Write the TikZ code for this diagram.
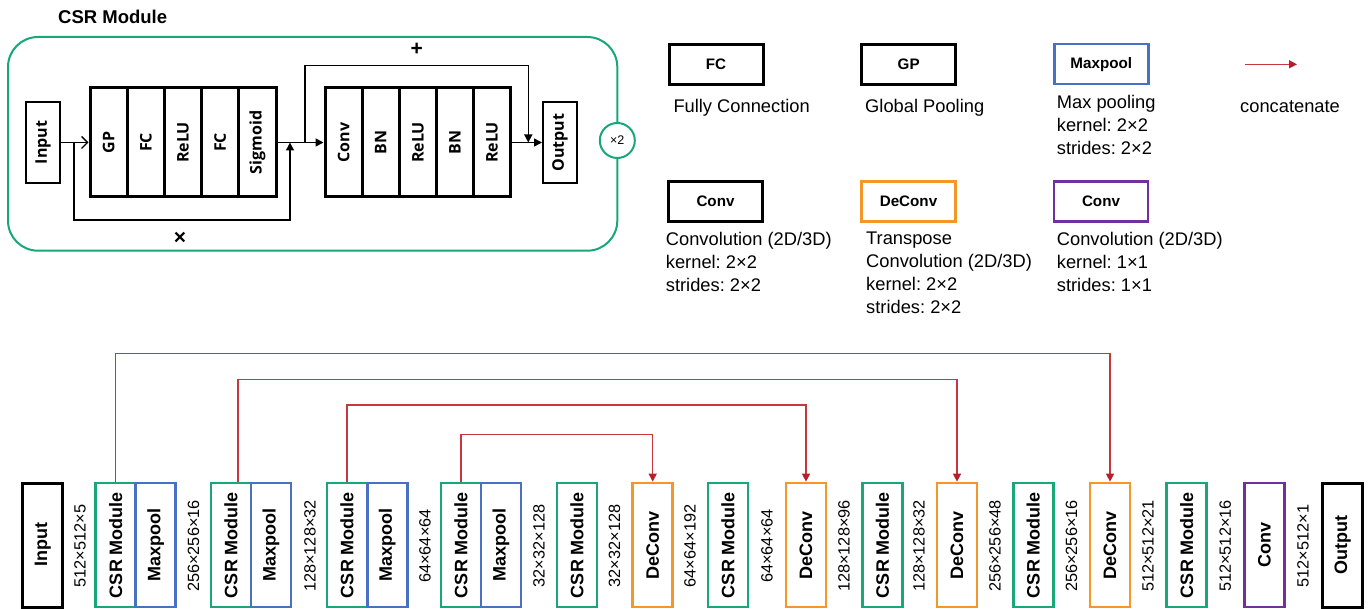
\documentclass[tikz,border=0pt]{standalone}
\usepackage{fontspec}
\usepackage{graphicx}
\setmainfont{Liberation Sans}
\newfontfamily\modfont{Open Sans}
\usetikzlibrary{arrows.meta}
\definecolor{cgreen}{RGB}{24,168,120}
\definecolor{cblue}{RGB}{72,112,196}
\definecolor{corange}{RGB}{245,150,40}
\definecolor{cpurple}{RGB}{112,48,160}
\definecolor{cred}{RGB}{185,30,45}
\definecolor{credl}{RGB}{200,55,65}
\frenchspacing
\begin{document}
\begin{tikzpicture}[x=1pt,y=-1pt,
  cell/.style={draw=black, line width=3pt, minimum width=37.2pt, minimum height=109pt, inner sep=0pt,
    font=\modfont\fontsize{16}{18}\selectfont\bfseries},
  smallbox/.style={draw=black, line width=2pt, minimum width=34pt, minimum height=81pt, inner sep=0pt,
    font=\modfont\fontsize{16}{18}\selectfont\bfseries},
  conn/.style={draw=black, line width=1.5pt},
  tri/.style={-{Triangle[length=8pt,width=8pt]}},
  barb/.style={-{Straight Barb[length=6pt,width=12pt,line width=1.4pt]}},
  lbox/.style={draw=black, line width=3pt, minimum width=94pt, minimum height=40pt, inner sep=0pt,
    font=\fontsize{15.2}{17}\selectfont\bfseries},
  ltext/.style={anchor=base west, inner sep=0pt, font=\fontsize{18.3}{22.8}\selectfont},
  bbox/.style={line width=2.7pt, minimum width=40pt, minimum height=124pt, inner sep=0pt,
    font=\fontsize{18}{20}\selectfont\bfseries},
  csr/.style={bbox, draw=cgreen},
  mp/.style={bbox, draw=cblue},
  dc/.style={bbox, draw=corange},
  pconv/.style={bbox, draw=cpurple},
  io/.style={bbox, draw=black, line width=3pt},
  dim/.style={inner sep=0pt, font=\fontsize{16.3}{18}\selectfont},
  concat/.style={draw=credl, line width=1.4pt, -{Triangle[length=8pt,width=8pt,color=cred]}}
]
\fill[white] (0,0) rectangle (1370,609);
\useasboundingbox (0,0) rectangle (1370,609);

% ---------------- CSR module ----------------
\node[anchor=west, inner sep=0pt, font=\fontsize{18.5}{20}\selectfont\bfseries] (title) at (58,17) {CSR Module};
\node[draw=cgreen, line width=2pt, rounded corners=30pt, minimum width=609.3pt, minimum height=213.7pt, inner sep=0pt] (frame) at (312.65,143.85) {};
\node[circle, draw=cgreen, fill=white, line width=2pt, minimum size=35pt, inner sep=0pt, font=\fontsize{12.5}{14}\selectfont] (rep) at (617.3,140.5) {×2};

\node[smallbox] (tin) at (43,142.5) {\rotatebox{90}{Input}};
\node[cell] (gp) at (108.6,142.5) {\rotatebox{90}{GP}};
\node[cell] (fc1) at (145.8,142.5) {\rotatebox{90}{FC}};
\node[cell] (relu1) at (183,142.5) {\rotatebox{90}{ReLU}};
\node[cell] (fc2) at (220.2,142.5) {\rotatebox{90}{FC}};
\node[cell] (sig) at (257.4,142.5) {\rotatebox{90}{Sigmoid}};

\node[cell, minimum width=37.14pt] (conv) at (343.6,142.5) {\rotatebox{90}{Conv}};
\node[cell, minimum width=37.14pt] (bn1) at (380.7,142.5) {\rotatebox{90}{BN}};
\node[cell, minimum width=37.14pt] (relu2) at (417.9,142.5) {\rotatebox{90}{ReLU}};
\node[cell, minimum width=37.14pt] (bn2) at (455,142.5) {\rotatebox{90}{BN}};
\node[cell, minimum width=37.14pt] (relu3) at (492.1,142.5) {\rotatebox{90}{ReLU}};
\node[smallbox] (tout) at (560,142.5) {\rotatebox{90}{Output}};

\draw[conn, barb] (tin.east) -- (gp.west);
\coordinate (xs) at (74,142.5);
\coordinate (xe) at (290,142.5);
\draw[conn, tri] (xs) -- (74,220) -| (xe);
\draw[conn, tri] (sig.east) -- (conv.west);
\coordinate (ps) at (305,142.5);
\coordinate (pe) at (528.3,142.5);
\draw[conn, tri] (ps) -- (305,65.7) -| (pe);
\draw[conn, tri] (relu3.east) -- (tout.west);

\node[inner sep=0pt, font=\fontsize{21}{22}\selectfont\bfseries] (plus) at (416.7,49) {+};
\node[inner sep=0pt, font=\fontsize{21}{22}\selectfont\bfseries] (times) at (180,238) {×};

% ---------------- Legend ----------------
\node[lbox] (lfc) at (716,64.2) {FC};
\node[lbox] (lgp) at (908.7,64.2) {GP};
\node[lbox, draw=cblue, line width=2.6pt] (lmp) at (1101.3,64.2) {Maxpool};
\node[lbox] (lconv) at (715.5,201.7) {Conv};
\node[lbox, draw=corange, line width=2.6pt] (ldc) at (908.5,201.7) {DeConv};
\node[lbox, draw=cpurple, line width=2.6pt] (lpc) at (1101,201.7) {Conv};

\node[ltext] (t1) at (673.3,113) {Fully Connection};
\node[ltext] (t2) at (865,113) {Global Pooling};
\node[ltext] (t3a) at (1056.7,109) {Max pooling};
\node[ltext] (t3b) at (1056.7,131.8) {kernel: 2×2};
\node[ltext] (t3c) at (1056.7,154.6) {strides: 2×2};
\coordinate (la1) at (1245,64.3);
\coordinate (la2) at (1297,64.3);
\draw[concat] (la1) -- (la2);
\node[ltext] (t4) at (1240,112.5) {concatenate};

\node[ltext] (t5a) at (665.7,245.5) {Convolution (2D/3D)};
\node[ltext] (t5b) at (665.7,268.3) {kernel: 2×2};
\node[ltext] (t5c) at (665.7,291.1) {strides: 2×2};
\node[ltext] (t6a) at (866,245) {Transpose};
\node[ltext] (t6b) at (866,267.8) {Convolution (2D/3D)};
\node[ltext] (t6c) at (866,290.6) {kernel: 2×2};
\node[ltext] (t6d) at (866,313.4) {strides: 2×2};
\node[ltext] (t7a) at (1056.7,245.5) {Convolution (2D/3D)};
\node[ltext] (t7b) at (1056.7,268.3) {kernel: 1×1};
\node[ltext] (t7c) at (1056.7,291.1) {strides: 1×1};

% ---------------- Network ----------------
\node[io] (inp) at (42.7,545) {\rotatebox{90}{Input}};
\node[csr] (csr1) at (115.7,545) {\rotatebox{90}{CSR Module}};
\node[mp] (mp1) at (155.7,545) {\rotatebox{90}{Maxpool}};
\node[csr] (csr2) at (231,545) {\rotatebox{90}{CSR Module}};
\node[mp] (mp2) at (271,545) {\rotatebox{90}{Maxpool}};
\node[csr] (csr3) at (347,545) {\rotatebox{90}{CSR Module}};
\node[mp] (mp3) at (387.3,545) {\rotatebox{90}{Maxpool}};
\node[csr] (csr4) at (461,545) {\rotatebox{90}{CSR Module}};
\node[mp] (mp4) at (501,545) {\rotatebox{90}{Maxpool}};
\node[csr] (csr5) at (577,545) {\rotatebox{90}{CSR Module}};
\node[dc] (dc1) at (652.7,545) {\rotatebox{90}{DeConv}};
\node[csr] (csr6) at (728,545) {\rotatebox{90}{CSR Module}};
\node[dc] (dc2) at (806,545) {\rotatebox{90}{DeConv}};
\node[csr] (csr7) at (882.5,545) {\rotatebox{90}{CSR Module}};
\node[dc] (dc3) at (957,545) {\rotatebox{90}{DeConv}};
\node[csr] (csr8) at (1033.3,545) {\rotatebox{90}{CSR Module}};
\node[dc] (dc4) at (1110,545) {\rotatebox{90}{DeConv}};
\node[csr] (csr9) at (1186.7,545) {\rotatebox{90}{CSR Module}};
\node[pconv] (pc) at (1264.5,545) {\rotatebox{90}{Conv}};
\node[io] (out) at (1342.7,545) {\rotatebox{90}{Output}};

\node[dim] (d1) at (80,546) {\rotatebox{90}{512×512×5}};
\node[dim] (d2) at (193.5,546) {\rotatebox{90}{256×256×16}};
\node[dim] (d3) at (310,546) {\rotatebox{90}{128×128×32}};
\node[dim] (d4) at (425,546) {\rotatebox{90}{64×64×64}};
\node[dim] (d5) at (539,546) {\rotatebox{90}{32×32×128}};
\node[dim] (d6) at (614.5,546) {\rotatebox{90}{32×32×128}};
\node[dim] (d7) at (690,546) {\rotatebox{90}{64×64×192}};
\node[dim] (d8) at (767,546) {\rotatebox{90}{64×64×64}};
\node[dim] (d9) at (844,546) {\rotatebox{90}{128×128×96}};
\node[dim] (d10) at (919,546) {\rotatebox{90}{128×128×32}};
\node[dim] (d11) at (995,546) {\rotatebox{90}{256×256×48}};
\node[dim] (d12) at (1071.5,546) {\rotatebox{90}{256×256×16}};
\node[dim] (d13) at (1148,546) {\rotatebox{90}{512×512×21}};
\node[dim] (d14) at (1225.3,546) {\rotatebox{90}{512×512×16}};
\node[dim] (d15) at (1303,546) {\rotatebox{90}{512×512×1}};

\draw[concat] (csr1.north) -- (csr1.north |- 0,353.3) -| (dc4.north);
\draw[concat] ([xshift=7pt]csr2.north) -- ([xshift=7pt]csr2.north |- 0,379.3) -| (dc3.north);
\draw[concat] (csr3.north) -- (csr3.north |- 0,405) -| (dc2.north);
\draw[concat] (csr4.north) -- (csr4.north |- 0,434.3) -| (dc1.north);
\end{tikzpicture}
\end{document}
